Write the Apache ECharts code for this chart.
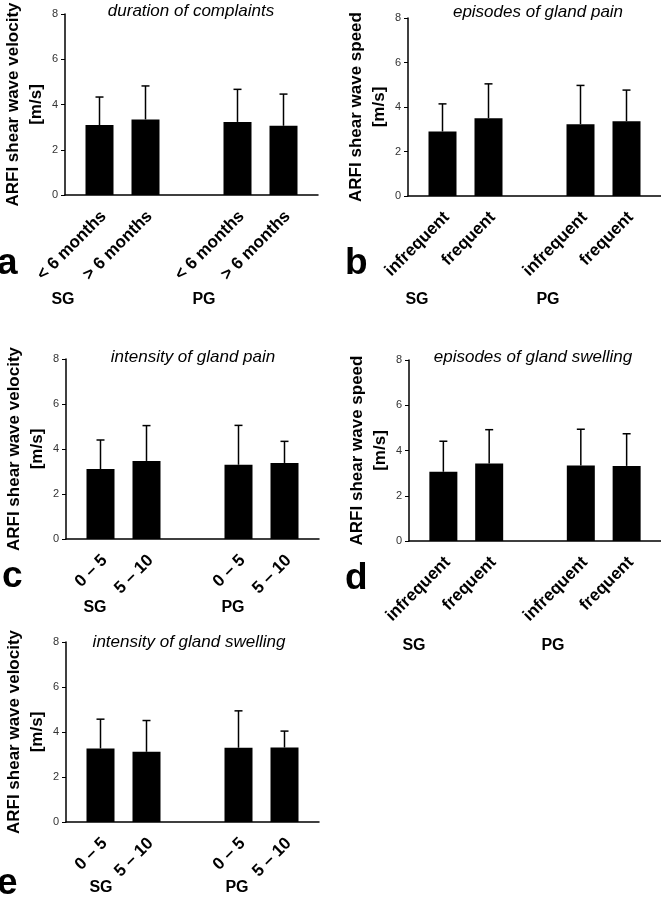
<!DOCTYPE html>
<html>
<head>
<meta charset="utf-8">
<script src="https://cdn.jsdelivr.net/npm/echarts@6/dist/echarts.min.js"></script>
<style>
html,body{margin:0;padding:0;background:#fff;}
#chart{width:661px;height:900px;}
</style>
</head>
<body>
<div id="chart"></div>
<script>
// ---- data ----
const labelsDuration = ['< 6 months', '> 6 months', '< 6 months', '> 6 months'];
const labelsEpisodes = ['infrequent', 'frequent', 'infrequent', 'frequent'];
const labelsIntensity = ['0 \u2013 5', '5 \u2013 10', '0 \u2013 5', '5 \u2013 10'];
const groupLabels = ['SG', 'PG'];
const yTicks = [0, 2, 4, 6, 8];

const meanA = [3.09, 3.34, 3.23, 3.06];
const sdA   = [1.24, 1.48, 1.44, 1.40];
const meanB = [2.90, 3.50, 3.23, 3.36];
const sdB   = [1.24, 1.54, 1.74, 1.40];
const meanC = [3.11, 3.47, 3.30, 3.38];
const sdC   = [1.29, 1.57, 1.75, 0.96];
const meanD = [3.06, 3.42, 3.34, 3.32];
const sdD   = [1.35, 1.50, 1.60, 1.42];
const meanE = [3.27, 3.12, 3.30, 3.31];
const sdE   = [1.30, 1.39, 1.64, 0.73];

const titles = ['duration of complaints', 'episodes of gland pain', 'intensity of gland pain',
                'episodes of gland swelling', 'intensity of gland swelling'];
const yNames = ['ARFI shear wave velocity\n[m/s]', 'ARFI shear wave speed\n[m/s]',
                'ARFI shear wave velocity\n[m/s]', 'ARFI shear wave speed\n[m/s]',
                'ARFI shear wave velocity\n[m/s]'];
const panelLetters = ['a', 'b', 'c', 'd', 'e'];

// ---- layout ----
const FONT = '"Liberation Sans", Arial, sans-serif';
const SLOTS = [1, 3, 7, 9];
const NSLOT = 11;
const panels = [
  {labels: labelsDuration, mean: meanA, sd: sdA, grid: {left: 65, top: 14, width: 253, height: 181},
   title: [191, 11], letter: [-3, 264], sg: [63, 300], pg: [204, 300]},
  {labels: labelsEpisodes, mean: meanB, sd: sdB, grid: {left: 408, top: 18, width: 253, height: 178},
   title: [538, 12], letter: [345, 264], sg: [417, 300], pg: [548, 300]},
  {labels: labelsIntensity, mean: meanC, sd: sdC, grid: {left: 66, top: 359, width: 253, height: 180},
   title: [193, 357], letter: [2, 577], sg: [95, 608], pg: [233, 608]},
  {labels: labelsEpisodes, mean: meanD, sd: sdD, grid: {left: 409, top: 360, width: 252, height: 181},
   title: [533, 357], letter: [345, 579], sg: [414, 646], pg: [553, 646]},
  {labels: labelsIntensity, mean: meanE, sd: sdE, grid: {left: 66, top: 642, width: 253, height: 180},
   title: [189, 642], letter: [-3, 884], sg: [101, 888], pg: [237, 888]}
];

const grids = [], xAxes = [], yAxes = [], series = [], graphics = [];

panels.forEach(function (p, i) {
  grids.push(Object.assign({outerBoundsMode: 'none', containLabel: false}, p.grid));
  const slotLabels = [];
  for (let k = 0; k < NSLOT; k++) slotLabels.push('');
  SLOTS.forEach(function (s, j) { slotLabels[s] = p.labels[j]; });
  xAxes.push({
    type: 'category', gridIndex: i, data: slotLabels, boundaryGap: true,
    axisLine: {show: true, lineStyle: {color: '#000', width: 1.5}},
    axisTick: {show: false},
    axisLabel: {interval: 0, rotate: 45, margin: 23, padding: [0, -6, 0, 0], color: '#000',
                fontWeight: 'bold', fontSize: 17, fontFamily: FONT},
    splitLine: {show: false}
  });
  yAxes.push({
    type: 'value', gridIndex: i, min: yTicks[0], max: yTicks[yTicks.length - 1],
    interval: yTicks[1] - yTicks[0],
    axisLine: {show: true, lineStyle: {color: '#000', width: 1.5}},
    axisTick: {show: true, length: 4, lineStyle: {color: '#000', width: 1}},
    axisLabel: {color: '#333', fontSize: 11, margin: 7, fontFamily: FONT},
    splitLine: {show: false},
    name: yNames[i], nameLocation: 'middle', nameGap: 17, nameMoveOverlap: false,
    nameTextStyle: {fontWeight: 'bold', fontSize: 17, lineHeight: 23, color: '#000', fontFamily: FONT}
  });
  series.push({
    type: 'bar', xAxisIndex: i, yAxisIndex: i, barWidth: 28,
    itemStyle: {color: '#000'}, silent: true, animation: false,
    data: p.mean.map(function (v, j) { return [SLOTS[j], v]; })
  });
  series.push({
    type: 'custom', xAxisIndex: i, yAxisIndex: i, silent: true, animation: false, z: 5,
    data: p.mean.map(function (v, j) { return [SLOTS[j], v, v + p.sd[j]]; }),
    renderItem: function (params, api) {
      const a = api.coord([api.value(0), api.value(1)]);
      const b = api.coord([api.value(0), api.value(2)]);
      const st = {stroke: '#000', lineWidth: 1.5};
      return {type: 'group', children: [
        {type: 'line', shape: {x1: a[0], y1: a[1], x2: b[0], y2: b[1]}, style: st},
        {type: 'line', shape: {x1: b[0] - 4, y1: b[1], x2: b[0] + 4, y2: b[1]}, style: st}
      ]};
    }
  });
  graphics.push({type: 'text', x: p.title[0], y: p.title[1],
    style: {text: titles[i], font: 'italic 17px ' + FONT, fill: '#000',
            align: 'center', verticalAlign: 'middle', textAlign: 'center', textVerticalAlign: 'middle'}});
  graphics.push({type: 'text', x: p.letter[0], y: p.letter[1],
    style: {text: panelLetters[i], font: 'bold 37px ' + FONT, fill: '#000',
            align: 'left', verticalAlign: 'middle', textAlign: 'left', textVerticalAlign: 'middle'}});
  [p.sg, p.pg].forEach(function (pos, g) {
    graphics.push({type: 'text', x: pos[0], y: pos[1],
      style: {text: groupLabels[g], font: 'bold 16px ' + FONT, fill: '#000',
              align: 'center', verticalAlign: 'middle', textAlign: 'center', textVerticalAlign: 'middle'}});
  });
});

const chart = echarts.init(document.getElementById('chart'), null, {renderer: 'canvas'});
chart.setOption({
  animation: false,
  backgroundColor: '#fff',
  grid: grids,
  xAxis: xAxes,
  yAxis: yAxes,
  series: series,
  graphic: graphics
});
</script>
</body>
</html>
